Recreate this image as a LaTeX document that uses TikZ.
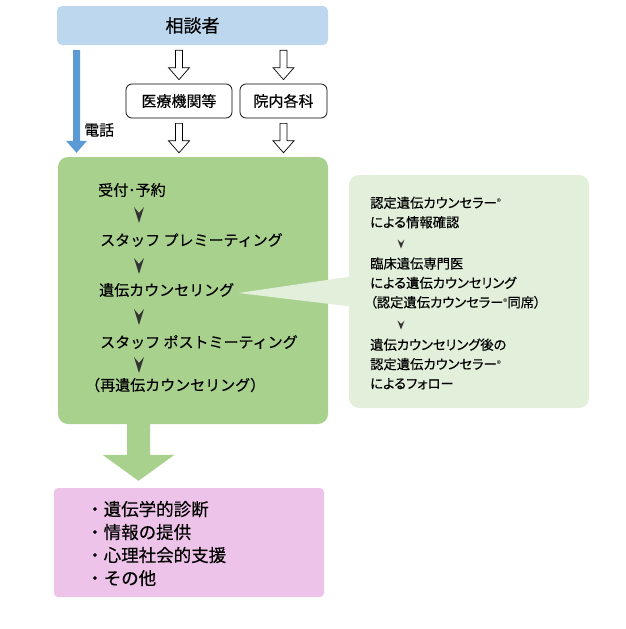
\documentclass[tikz,border=0pt]{standalone}
\usepackage{fontspec}
\setmainfont{Noto Sans CJK JP}[FakeBold=0.4]
\newfontfamily\jpprop{Noto Sans CJK JP}[FakeBold=0.4,RawFeature=+palt]
\newfontfamily\jpplain{Noto Sans CJK JP}
\usetikzlibrary{calc}
\definecolor{topblue}{HTML}{BDD7EE}
\definecolor{arrowblue}{HTML}{5B9BD5}
\definecolor{boxgreen}{HTML}{A9D18E}
\definecolor{calloutgreen}{HTML}{E2EFDA}
\definecolor{boxpink}{HTML}{EEC3E9}
\newcommand\regmark{{\jpplain\fontsize{8.5}{8.5}\selectfont\raisebox{2pt}{®}}}
% block arrow pointing down: #1 style, #2 start, #3 tip, #4 shaft half width, #5 head half width, #6 head length
\newcommand\blockdown[6]{%
  \path[#1] let \p1=(#2), \p2=(#3) in
    (\x1-#4pt,\y1) -- (\x1-#4pt,\y2+#6pt) -- (\x1-#5pt,\y2+#6pt) -- (\x1,\y2)
    -- (\x1+#5pt,\y2+#6pt) -- (\x1+#4pt,\y2+#6pt) -- (\x1+#4pt,\y1) -- cycle;}
\tikzset{
  rbox/.style={rectangle, inner sep=0pt, font=\fontsize{15}{18}\selectfont},
  txt/.style={inner sep=0pt, anchor=west, font=\fontsize{15}{18}\selectfont},
  ctxt/.style={inner sep=0pt, anchor=west, align=left, font=\jpprop\fontsize{13.3}{19.4}\selectfont},
  hollow/.style={draw=black, fill=white, line width=0.7pt, line join=miter},
  stepdown/.pic={\fill[black!80] (-5,-8) -- (0,8) -- (5,-8) -- (0,-2) -- cycle;},
  smalldown/.pic={\fill[black!80] (-3.5,-4.5) -- (0,4.5) -- (3.5,-4.5) -- (0,-1) -- cycle;}
}
\begin{document}
\begin{tikzpicture}[x=1pt,y=-1pt]
\useasboundingbox (0,0) rectangle (626,629);
% top box
\node[rbox, fill=topblue, rounded corners=5pt, minimum width=271pt, minimum height=39pt,
      font=\fontsize{18}{20}\selectfont] (top) at (192.5,25.5) {相談者};
% intermediate boxes
\node[rbox, draw=black, line width=0.7pt, rounded corners=6pt, minimum width=106pt, minimum height=34pt] (iryo) at (179,101) {医療機関等};
\node[rbox, draw=black, line width=0.7pt, rounded corners=6pt, minimum width=87pt, minimum height=34pt] (innai) at (283.5,101) {院内各科};
% green main box
\node[rbox, fill=boxgreen, rounded corners=10pt, minimum width=270pt, minimum height=267pt] (green) at (193,290.5) {};
% callout
\node[rbox, fill=calloutgreen, rounded corners=10pt, minimum width=240pt, minimum height=233pt] (callout) at (469,291.5) {};
% pink box
\node[rbox, fill=boxpink, rounded corners=4pt, minimum width=270pt, minimum height=109pt] (pink) at (189,542.5) {};

% steps
\node[txt] (s1) at (98,190) {受付･予約};
\node[txt] (s2) at (100,240) {スタッフ プレミーティング};
\node[txt] (s3) at (99,290) {遺伝カウンセリング};
\node[txt] (s4) at (100,342) {スタッフ ポストミーティング};
\node[txt] (s5) at (85,385) {（再遺伝カウンセリング）};
\pic at (139,215) {stepdown};
\pic at (139,266) {stepdown};
\pic at (139,317) {stepdown};
\pic at (139,365) {stepdown};

% callout pointer
\fill[calloutgreen] ($(s3.east)+(4,3)$) -- ($(callout.west)+(2,-15)$) -- ($(callout.west)+(2,15)$) -- cycle;

% callout texts
\node[ctxt] (c1) at (370,212.5) {認定遺伝カウンセラー\regmark\\による情報確認};
\node[ctxt] (c2) at (370,283) {臨床遺伝専門医\\による遺伝カウンセリング\\（認定遺伝カウンセラー\regmark 同席）};
\node[ctxt] (c3) at (370,364) {遺伝カウンセリング後の\\認定遺伝カウンセラー\regmark\\によるフォロー};
\pic at (401,244) {smalldown};
\pic at (401,325) {smalldown};

% pink texts
\node[inner sep=0pt, anchor=west, align=left, font=\fontsize{17.5}{23}\selectfont] (p) at (86,543.5)
  {・遺伝学的診断\\・情報の提供\\・心理社会的支援\\・その他};

% blue telephone arrow
\coordinate (bstart) at ($(top.south -| 76.5,0)+(0,5)$);
\coordinate (btip) at ($(green.north -| 76.5,0)+(0,-4)$);
\blockdown{fill=arrowblue}{bstart}{btip}{3.5}{10.5}{12}
\node[inner sep=0pt, anchor=west, font=\fontsize{15}{18}\selectfont] (tel) at (84,130) {電話};

% hollow arrows
\coordinate (h1s) at ($(top.south -| iryo.north)+(0,5)$);
\coordinate (h1t) at ($(iryo.north)+(0,-4)$);
\coordinate (h2s) at ($(top.south -| innai.north)+(0,5)$);
\coordinate (h2t) at ($(innai.north)+(0,-4)$);
\coordinate (h3s) at ($(iryo.south)+(0,5)$);
\coordinate (h3t) at ($(green.north -| iryo.south)+(0,-4)$);
\coordinate (h4s) at ($(innai.south)+(0,5)$);
\coordinate (h4t) at ($(green.north -| innai.south)+(0,-4)$);
\blockdown{hollow}{h1s}{h1t}{3.5}{10.5}{12}
\blockdown{hollow}{h2s}{h2t}{3.5}{10.5}{12}
\blockdown{hollow}{h3s}{h3t}{3.5}{10.5}{12}
\blockdown{hollow}{h4s}{h4t}{3.5}{10.5}{12}

% big green arrow
\coordinate (gs) at (green.south -| 138.5,0);
\coordinate (gt) at ($(pink.north -| 138.5,0)+(0,-7)$);
\blockdown{fill=boxgreen}{gs}{gt}{11.5}{36}{26}
\end{tikzpicture}
\end{document}
